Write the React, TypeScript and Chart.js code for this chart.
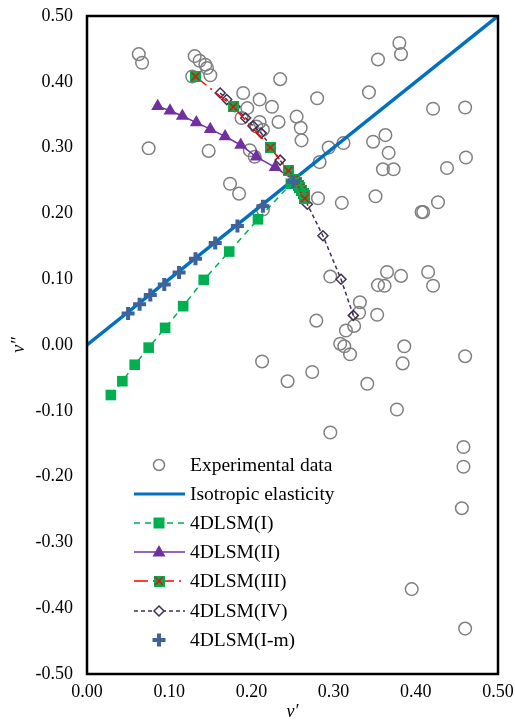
import React, { useEffect, useRef } from 'react';
import { Chart, registerables } from 'chart.js';

Chart.register(...registerables);

// ---------------- data ----------------
const expX = [0.063, 0.067, 0.131, 0.137, 0.144, 0.146, 0.150, 0.128, 0.235, 0.190, 0.210, 0.225, 0.195, 0.188, 0.233, 0.255, 0.260, 0.261, 0.280, 0.210, 0.206, 0.214, 0.075, 0.148, 0.198, 0.204, 0.174, 0.185, 0.214, 0.380, 0.382, 0.354, 0.343, 0.421, 0.460, 0.363, 0.348, 0.367, 0.312, 0.294, 0.283, 0.360, 0.373, 0.438, 0.461, 0.281, 0.310, 0.351, 0.427, 0.409, 0.407, 0.296, 0.365, 0.382, 0.415, 0.421, 0.354, 0.362, 0.332, 0.331, 0.353, 0.279, 0.325, 0.315, 0.308, 0.313, 0.320, 0.386, 0.384, 0.460, 0.274, 0.244, 0.341, 0.213, 0.377, 0.296, 0.458, 0.458, 0.456, 0.395, 0.460];
const expY = [0.442, 0.429, 0.439, 0.432, 0.426, 0.421, 0.410, 0.408, 0.404, 0.383, 0.373, 0.362, 0.360, 0.345, 0.339, 0.347, 0.330, 0.311, 0.375, 0.339, 0.332, 0.327, 0.299, 0.295, 0.296, 0.286, 0.245, 0.230, 0.206, 0.459, 0.442, 0.434, 0.384, 0.359, 0.361, 0.319, 0.309, 0.292, 0.307, 0.300, 0.278, 0.267, 0.267, 0.269, 0.285, 0.223, 0.216, 0.226, 0.217, 0.202, 0.202, 0.104, 0.111, 0.105, 0.111, 0.090, 0.091, 0.090, 0.065, 0.049, 0.046, 0.037, 0.029, 0.022, 0.002, -0.002, -0.014, -0.002, -0.028, -0.017, -0.041, -0.055, -0.059, -0.025, -0.098, -0.133, -0.155, -0.185, -0.248, -0.371, -0.431];

const isoX = [0, 0.5];
const isoY = [0, 0.5];

const s1X = [0.029, 0.043, 0.058, 0.075, 0.095, 0.117, 0.142, 0.173, 0.208, 0.248];
const s1Y = [-0.076, -0.055, -0.030, -0.004, 0.026, 0.059, 0.099, 0.142, 0.191, 0.245];

const s2X = [0.086, 0.101, 0.116, 0.133, 0.150, 0.168, 0.187, 0.206, 0.229, 0.250];
const s2Y = [0.363, 0.356, 0.348, 0.338, 0.328, 0.317, 0.304, 0.286, 0.270, 0.252];

const s3X = [0.132, 0.178, 0.223, 0.245, 0.252, 0.255, 0.257, 0.259, 0.261, 0.263, 0.264, 0.265];
const s3Y = [0.408, 0.362, 0.300, 0.265, 0.252, 0.247, 0.243, 0.239, 0.235, 0.231, 0.227, 0.223];

const s4X = [0.162, 0.170, 0.180, 0.193, 0.202, 0.212, 0.235, 0.252, 0.262, 0.268, 0.287, 0.309, 0.324];
const s4Y = [0.383, 0.373, 0.362, 0.345, 0.333, 0.322, 0.281, 0.250, 0.232, 0.214, 0.166, 0.100, 0.045];

const s5X = [0.050, 0.064, 0.077, 0.094, 0.112, 0.132, 0.156, 0.183, 0.214, 0.251];
const s5Y = [0.048, 0.062, 0.076, 0.092, 0.110, 0.131, 0.155, 0.181, 0.211, 0.248];

const seriesNames = [
  'Experimental data',
  'Isotropic elasticity',
  '4DLSM(I)',
  '4DLSM(II)',
  '4DLSM(III)',
  '4DLSM(IV)',
  '4DLSM(I-m)',
];

const xTicks = [0, 0.1, 0.2, 0.3, 0.4, 0.5];

const zip = (xs: number[], ys: number[]) => xs.map((x, i) => ({ x, y: ys[i] }));

const SERIF = "'Times New Roman', 'Liberation Serif', serif";
const C_EXP = '#808080';
const C_ISO = '#0070C0';
const C_I = '#00B050';
const C_II = '#7030A0';
const C_III = '#FF0000';
const C_IV = '#403152';
const C_IM = '#3F6298';

function makeBoxX(size: number) {
  const c = document.createElement('canvas');
  c.width = size;
  c.height = size;
  const g = c.getContext('2d')!;
  g.fillStyle = C_I;
  g.fillRect(0, 0, size, size);
  g.strokeStyle = C_III;
  g.lineWidth = 1.5;
  g.beginPath();
  g.moveTo(1.5, 1.5);
  g.lineTo(size - 1.5, size - 1.5);
  g.moveTo(size - 1.5, 1.5);
  g.lineTo(1.5, size - 1.5);
  g.stroke();
  return c;
}

const framePlugin = {
  id: 'frame',
  afterDatasetsDraw(chart: any) {
    const { ctx, chartArea: a } = chart;
    ctx.save();
    ctx.strokeStyle = '#000';
    ctx.lineWidth = 2.5;
    ctx.strokeRect(a.left, a.top, a.right - a.left, a.bottom - a.top);
    ctx.restore();
  },
};

function makeLegendPlugin(boxX: HTMLCanvasElement) {
  return {
    id: 'customLegend',
    afterDraw(chart: any) {
      const ctx = chart.ctx as CanvasRenderingContext2D;
      const x0 = 134, x1 = 185, mx = 159, tx = 190;
      const rows = [465, 494, 523, 552, 581, 611, 640];
      ctx.save();
      const line = (y: number, color: string, w: number, dash: number[]) => {
        ctx.save();
        ctx.strokeStyle = color;
        ctx.lineWidth = w;
        ctx.setLineDash(dash);
        ctx.beginPath();
        ctx.moveTo(x0, y);
        ctx.lineTo(x1, y);
        ctx.stroke();
        ctx.restore();
      };
      let y = rows[0];
      ctx.strokeStyle = C_EXP;
      ctx.lineWidth = 1.5;
      ctx.beginPath();
      ctx.arc(mx, y, 5.5, 0, Math.PI * 2);
      ctx.stroke();
      line(rows[1], C_ISO, 3, []);
      y = rows[2];
      line(y, C_I, 1.5, [6, 5]);
      ctx.fillStyle = C_I;
      ctx.fillRect(mx - 5.5, y - 5.5, 11, 11);
      y = rows[3];
      line(y, C_II, 1.5, []);
      ctx.fillStyle = C_II;
      ctx.beginPath();
      ctx.moveTo(mx, y - 7);
      ctx.lineTo(mx + 6.5, y + 4.5);
      ctx.lineTo(mx - 6.5, y + 4.5);
      ctx.closePath();
      ctx.fill();
      y = rows[4];
      line(y, C_III, 1.5, [14, 5, 2, 5]);
      ctx.drawImage(boxX, mx - 5.5, y - 5.5);
      y = rows[5];
      line(y, C_IV, 1.5, [4, 3]);
      ctx.fillStyle = '#fff';
      ctx.strokeStyle = C_IV;
      ctx.lineWidth = 1.5;
      ctx.beginPath();
      ctx.moveTo(mx, y - 5);
      ctx.lineTo(mx + 5, y);
      ctx.lineTo(mx, y + 5);
      ctx.lineTo(mx - 5, y);
      ctx.closePath();
      ctx.fill();
      ctx.stroke();
      y = rows[6];
      ctx.strokeStyle = C_IM;
      ctx.lineWidth = 4;
      ctx.beginPath();
      ctx.moveTo(mx - 6.5, y);
      ctx.lineTo(mx + 6.5, y);
      ctx.moveTo(mx, y - 6.5);
      ctx.lineTo(mx, y + 6.5);
      ctx.stroke();
      ctx.fillStyle = '#000';
      ctx.font = `19.5px ${SERIF}`;
      ctx.textBaseline = 'middle';
      ctx.textAlign = 'left';
      seriesNames.forEach((n, i) => ctx.fillText(n, tx, rows[i] + 1));
      ctx.restore();
    },
  };
}

export default function App() {
  const ref = useRef<HTMLCanvasElement | null>(null);

  useEffect(() => {
    if (!ref.current) return;
    const boxX = makeBoxX(11);
    const chart: any = new Chart(ref.current, {
      type: 'scatter',
      data: {
        datasets: [
          {
            label: seriesNames[6],
            data: zip(s5X, s5Y),
            showLine: false,
            pointStyle: 'cross',
            pointRadius: 6.5,
            pointBorderWidth: 4,
            borderColor: C_IM,
            backgroundColor: C_IM,
            order: 0,
          },
          {
            label: seriesNames[4],
            data: zip(s3X, s3Y),
            showLine: true,
            borderColor: C_III,
            borderWidth: 1.5,
            borderDash: [14, 5, 2, 5],
            pointStyle: boxX,
            pointRadius: 6,
            order: 1,
          },
          {
            label: seriesNames[5],
            data: zip(s4X, s4Y),
            showLine: true,
            borderColor: C_IV,
            borderWidth: 1.5,
            borderDash: [4, 3],
            pointStyle: 'rectRot',
            pointRadius: 5,
            pointBorderWidth: 1.5,
            pointBorderColor: C_IV,
            pointBackgroundColor: 'rgba(255,255,255,0)',
            order: 2,
          },
          {
            label: seriesNames[3],
            data: zip(s2X, s2Y),
            showLine: true,
            borderColor: C_II,
            borderWidth: 1.5,
            pointStyle: 'triangle',
            pointRadius: 7.5,
            pointBorderWidth: 0,
            pointBackgroundColor: C_II,
            backgroundColor: C_II,
            order: 3,
          },
          {
            label: seriesNames[2],
            data: zip(s1X, s1Y),
            showLine: true,
            borderColor: C_I,
            borderWidth: 1.5,
            borderDash: [6, 5],
            pointStyle: 'rect',
            pointRadius: 7.5,
            pointBorderWidth: 0,
            pointBackgroundColor: C_I,
            backgroundColor: C_I,
            order: 4,
          },
          {
            label: seriesNames[1],
            data: zip(isoX, isoY),
            showLine: true,
            borderColor: C_ISO,
            borderWidth: 3.5,
            pointRadius: 0,
            order: 5,
          },
          {
            label: seriesNames[0],
            data: zip(expX, expY),
            showLine: false,
            pointStyle: 'circle',
            pointRadius: 6.3,
            pointBorderWidth: 1.5,
            borderColor: C_EXP,
            pointBorderColor: C_EXP,
            pointBackgroundColor: 'rgba(255,255,255,0)',
            backgroundColor: 'rgba(255,255,255,0)',
            order: 6,
          },
        ],
      },
      options: {
        animation: false,
        responsive: false,
        devicePixelRatio: 1,
        layout: { padding: { left: 0, right: 17, top: 16, bottom: 0 } },
        plugins: {
          legend: { display: false },
          tooltip: { enabled: false },
        },
        scales: {
          x: {
            type: 'linear',
            min: 0,
            max: 0.5,
            afterBuildTicks: (s: any) => {
              s.ticks = xTicks.map((v) => ({ value: v }));
            },
            afterFit: (s: any) => {
              s.height = 50;
              s.paddingLeft = 0;
              s.paddingRight = 0;
            },
            grid: { display: false, drawTicks: false },
            border: { display: false },
            ticks: {
              color: '#000',
              padding: 7,
              font: { family: SERIF, size: 18 },
              callback: (v: any) => Number(v).toFixed(2),
            },
            title: {
              display: true,
              text: 'ν′',
              color: '#000',
              font: { family: SERIF, size: 18, style: 'italic' },
              padding: { top: 0, bottom: 1 },
            },
          },
          y: {
            type: 'linear',
            min: -0.5,
            max: 0.5,
            afterBuildTicks: (s: any) => {
              const t = [];
              for (let i = -5; i <= 5; i++) t.push({ value: i / 10 });
              s.ticks = t;
            },
            afterFit: (s: any) => {
              s.width = 87;
              s.paddingTop = 0;
              s.paddingBottom = 0;
            },
            grid: { display: false, drawTicks: false },
            border: { display: false },
            ticks: {
              color: '#000',
              padding: 14,
              font: { family: SERIF, size: 18 },
              callback: (v: any) => Number(v).toFixed(2),
            },
            title: {
              display: true,
              text: 'ν″',
              color: '#000',
              font: { family: SERIF, size: 18, style: 'italic' },
              padding: { top: 8, bottom: 0 },
            },
          },
        },
      },
      plugins: [framePlugin, makeLegendPlugin(boxX)],
    });
    return () => chart.destroy();
  }, []);

  return (
    <div style={{ position: 'fixed', left: 0, top: 0, width: 515, height: 724, background: '#fff' }}>
      <canvas ref={ref} width={515} height={724} style={{ width: 515, height: 724, display: 'block' }} />
    </div>
  );
}
